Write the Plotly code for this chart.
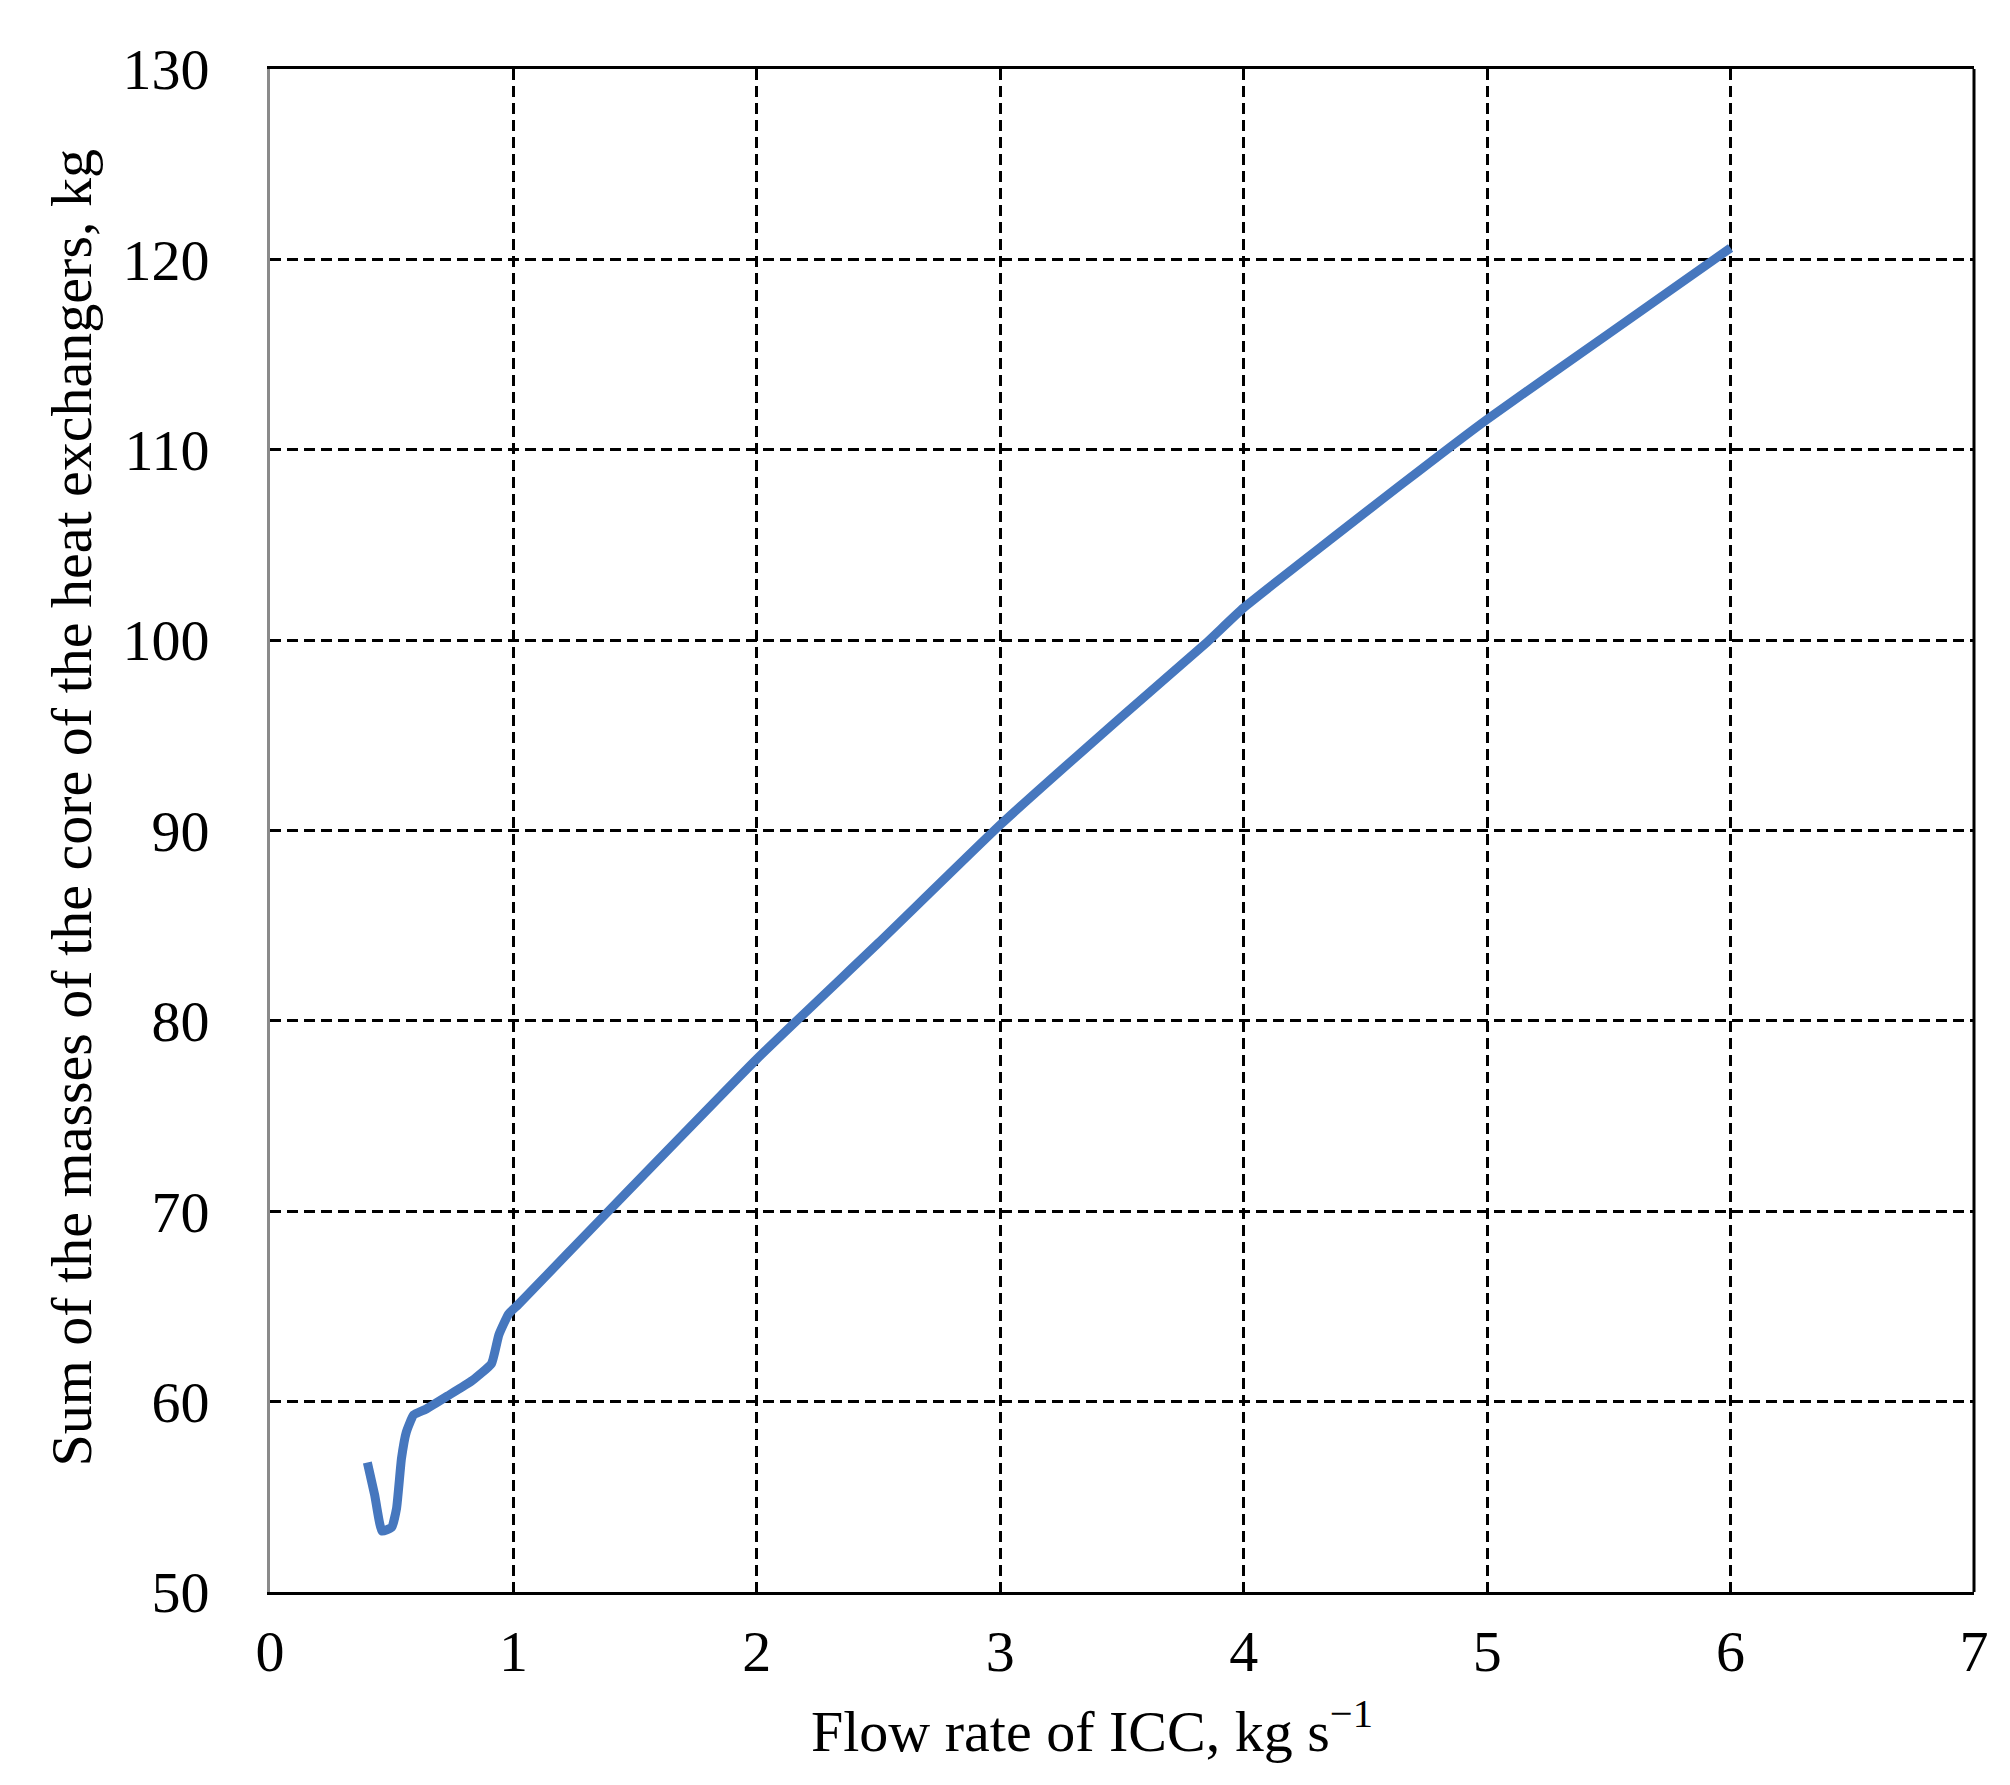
import plotly.graph_objects as go

# curve
flow_rate = [0.40, 0.43, 0.46, 0.50, 0.52, 0.54, 0.56, 0.59, 0.64, 0.73, 0.83, 0.91,
             0.94, 0.98, 1.02, 1.39, 2.0, 2.5, 3.0, 3.5, 3.85, 4.0, 4.65, 5.0, 5.5, 6.0]
core_mass = [56.8, 55.1, 53.2, 53.4, 54.4, 57.0, 58.4, 59.3, 59.6, 60.3, 61.1, 62.0,
             63.5, 64.6, 65.1, 70.0, 78.0, 84.1, 90.3, 96.0, 99.9, 101.7, 108.2, 111.6, 116.1, 120.6]

x_ticks = [0, 1, 2, 3, 4, 5, 6, 7]
y_ticks = [50, 60, 70, 80, 90, 100, 110, 120, 130]

x_title = 'Flow rate of ICC, kg s<sup>\u22121</sup>'
y_title = 'Sum of the masses of the core of the heat exchangers, kg'

font_family = "Liberation Serif"
line_blue = '#4677be'
fsize = 58

fig = go.Figure()
fig.add_trace(go.Scatter(
    x=flow_rate, y=core_mass, mode='lines',
    line=dict(color=line_blue, width=9, shape='spline', smoothing=0.4),
    showlegend=False,
))

fig.update_layout(
    width=2010,
    height=1785,
    paper_bgcolor='white',
    plot_bgcolor='white',
    font=dict(family=font_family, size=fsize, color='black'),
    margin=dict(l=262, r=44, t=61, b=201),
)

grid = dict(showgrid=True, gridcolor='black', gridwidth=2.5, griddash='11px,6px', zeroline=False)

fig.update_xaxes(
    range=[0, 7], tickvals=x_ticks, **grid,
    showline=True, linecolor='black', linewidth=3, mirror=True,
    ticks='outside', ticklen=6, tickcolor='rgba(0,0,0,0)',
)
fig.update_yaxes(
    range=[50, 130], tickvals=y_ticks, **grid,
    showline=True, linecolor='#8a8a8a', linewidth=3,
    ticks='outside', ticklen=46, tickcolor='rgba(0,0,0,0)',
)

# axis titles
fig.add_annotation(text=x_title, xref='paper', yref='paper', x=0.5, y=0,
                   xanchor='center', yanchor='middle', xshift=-30, yshift=-135,
                   showarrow=False, font=dict(size=fsize))
fig.add_annotation(text=y_title, xref='paper', yref='paper', x=0, y=0.5,
                   xanchor='center', yanchor='middle', xshift=-199, yshift=22,
                   textangle=-90, showarrow=False, font=dict(size=fsize))

# right border of the frame is black, the left one grey
fig.add_shape(type='line', xref='paper', yref='paper', x0=1, x1=1, y0=0, y1=1,
              line=dict(color='black', width=3))

fig.write_html("out.html")
